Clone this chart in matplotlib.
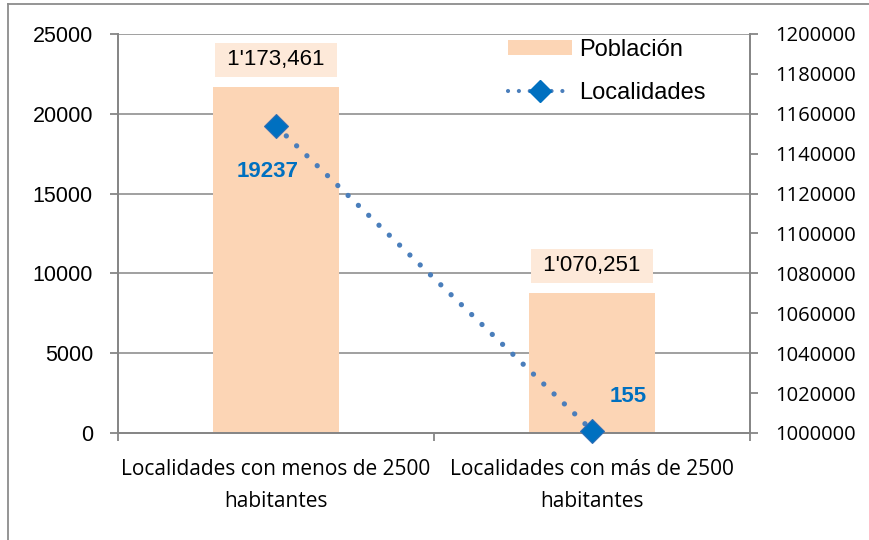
from matplotlib import pyplot as plt
from matplotlib.lines import Line2D
from matplotlib.patches import Patch
from matplotlib.ticker import FuncFormatter
import numpy as np

categorias = ['Localidades con menos de 2500\nhabitantes',
              'Localidades con más de 2500\nhabitantes']
poblacion = [1173461, 1070251]
etiquetas_poblacion = ["1'173,461", "1'070,251"]
localidades = [19237, 155]

color_barra = '#FCD5B5'
color_caja = '#FDE9D9'
color_linea = '#4A7EBB'
color_marca = '#0070C0'
gris = '#868686'

W, H = 869, 540
fig = plt.figure(figsize=(W / 100, H / 100), dpi=100)
ax = fig.add_axes([118 / W, (H - 433) / H, 632 / W, 399 / H])
ax2 = ax.twinx()

x = np.arange(len(categorias))

# barras (poblacion) en el eje derecho
ax.bar(x, poblacion, width=0.4, color=color_barra, zorder=2)
ax.set_ylim(1000000, 1200000)
ax.set_xlim(-0.5, 1.5)
ax.set_yticks(np.arange(1000000, 1200001, 20000))
ax.yaxis.set_major_formatter(FuncFormatter(lambda v, p: '%d' % v))
ax.yaxis.tick_right()
ax.yaxis.set_label_position('right')
for y in np.arange(1040000, 1200001, 40000):
    ax.axhline(y, color=gris, lw=1.1, zorder=1)

for xi, p, txt in zip(x, poblacion, etiquetas_poblacion):
    ax.annotate(' ' + txt + ' ', (xi, p), xytext=(0, 27), textcoords='offset pixels',
                ha='center', va='center', fontsize=16, family='Liberation Sans',
                bbox=dict(boxstyle='square,pad=0.3', fc=color_caja, ec='none'), zorder=3)

# linea (localidades) en el eje izquierdo
ax2.plot(x, localidades, color=color_linea, lw=3.8, linestyle=(0, (0.01, 2.7)),
         dash_capstyle='round', zorder=3, clip_on=False)
ax2.plot(x, localidades, linestyle='none', marker='D', ms=12.5, color=color_marca,
         markeredgecolor='#2F6DB5', markeredgewidth=0.8, zorder=4, clip_on=False)
ax2.set_ylim(0, 25000)
ax2.set_yticks(np.arange(0, 25001, 5000))
ax2.yaxis.tick_left()

ax2.annotate(str(localidades[0]), (x[0], localidades[0]), xytext=(-8, -46),
             textcoords='offset pixels', ha='center', va='center', fontsize=16,
             fontweight='bold', color=color_marca, family='Liberation Sans')
ax2.annotate(str(localidades[1]), (x[1], localidades[1]), xytext=(36, 34),
             textcoords='offset pixels', ha='center', va='center', fontsize=16,
             fontweight='bold', color=color_marca, family='Liberation Sans')

# ejes
for a in (ax, ax2):
    for s in a.spines.values():
        s.set_color(gris)
        s.set_linewidth(1.3)
    a.spines['top'].set_visible(False)

ax.set_xticks(x)
ax.set_xticklabels(categorias, fontsize=15, family='Open Sans', linespacing=1.65)
ax.set_xticks([-0.5, 0.5, 1.5], minor=True)
ax.tick_params(axis='x', which='major', length=0, pad=19)
ax.tick_params(axis='x', which='minor', length=6, width=1.3, color=gris, direction='out')
ax.tick_params(axis='y', length=6, width=1.3, color=gris, direction='out', pad=12,
               labelsize=14.5)
for t in ax.get_yticklabels():
    t.set_family('Open Sans')
ax2.tick_params(axis='y', length=6, width=1.3, color=gris, direction='out', pad=12,
                labelsize=15.5)
for t in ax2.get_yticklabels():
    t.set_family('Liberation Sans')

# leyenda
handles = [Patch(facecolor=color_barra, edgecolor='none'),
           Line2D([0], [0], color=color_linea, lw=3, linestyle=(0, (0.01, 2.6)),
                  dash_capstyle='round', marker='D', ms=11, markerfacecolor=color_marca,
                  markeredgecolor=color_marca)]
leg = ax2.legend(handles, ['Población', 'Localidades'], loc='upper left',
                 bbox_to_anchor=(508 / W, (H - 39) / H), bbox_transform=fig.transFigure,
                 frameon=False, borderpad=0, borderaxespad=0, handlelength=2.7,
                 handleheight=0.6, handletextpad=0.3, labelspacing=0.9,
                 prop={'family': 'Liberation Sans', 'size': 17})

# borde del area del grafico
fig.add_artist(Line2D([8 / W, 8 / W], [0, (H - 4) / H], color='#8C8C8C', lw=1.3))
fig.add_artist(Line2D([8 / W, 1], [(H - 4) / H, (H - 4) / H], color='#8C8C8C', lw=1.3))

fig.savefig('out.png', dpi=100)
